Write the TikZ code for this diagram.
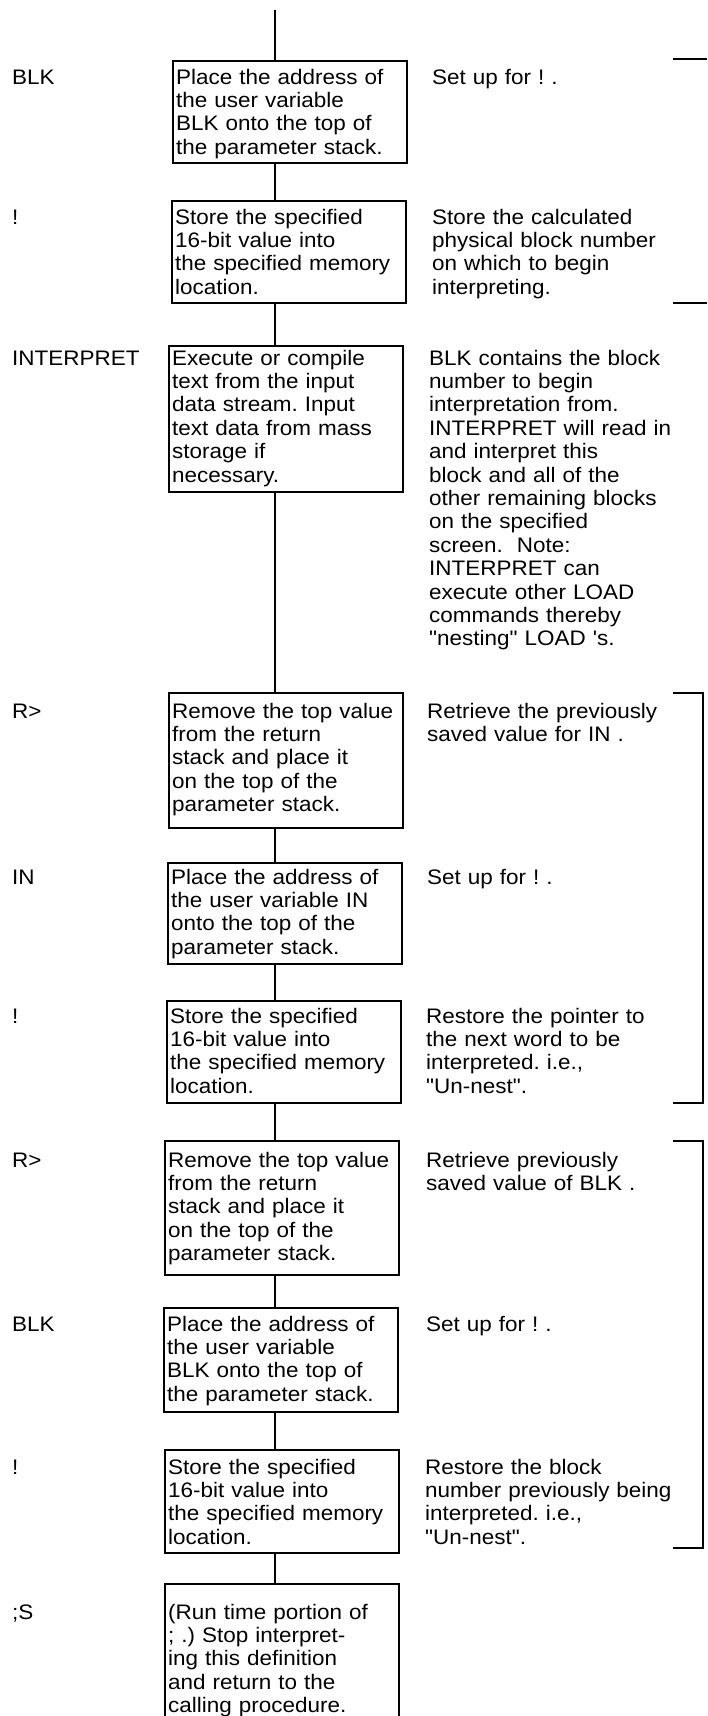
\documentclass[tikz,border=0pt]{standalone}
\usepackage{fontspec}
\setmainfont[FakeStretch=1.07, Ligatures=TeXOff]{Liberation Sans}
\frenchspacing
\begin{document}
\begin{tikzpicture}[x=1pt,y=-1pt,
  boxshape/.style={draw, line width=1.8pt, anchor=north west, inner sep=0pt, minimum width=234pt},
  txt/.style={anchor=base west, inner sep=0pt, align=left, text width=300pt, font=\fontsize{21}{23.4}\selectfont},
  rtxt/.style={anchor=base west, inner sep=0pt, align=left, text width=275pt, font=\fontsize{21}{23.4}\selectfont},
  lbl/.style={anchor=base west, inner sep=0pt, font=\fontsize{21}{23.4}\selectfont},
  conn/.style={line width=1.8pt},
]
\useasboundingbox (0,0) rectangle (707,1716);
\clip (0,0) rectangle (707,1716);
\newcommand\flowrow[9]{%
  \node[lbl] (l#1) at (12,#5) {#2};
  \node[boxshape, minimum height=#4pt-#3pt] (b#1) at (#6,#3) {};
  \node[txt] (t#1) at (#6+4,#5) {#7};
  \node[rtxt] (r#1) at (#8,#5) {#9};
}
\flowrow{1}{BLK}{60}{162}{84}{172}{Place the address of\\the user variable\\BLK onto the top of\\the parameter stack.}{432}{Set up for ! .}
\flowrow{2}{!}{200}{302}{224}{171}{Store the specified\\16-bit value into\\the specified memory\\location.}{432}{Store the calculated\\physical block number\\on which to begin\\interpreting.}
\flowrow{3}{INTERPRET}{345}{491}{365}{168}{Execute or compile\\text from the input\\data stream. Input\\text data from mass\\storage if\\necessary.}{429}{BLK contains the block\\number to begin\\interpretation from.\\INTERPRET will read in\\and interpret this\\block and all of the\\other remaining blocks\\on the specified\\screen.\ \ Note:\\INTERPRET can\\execute other LOAD\\commands thereby\\"nesting" LOAD 's.}
\flowrow{4}{R>}{692}{827}{718}{168}{Remove the top value\\from the return\\stack and place it\\on the top of the\\parameter stack.}{427}{Retrieve the previously\\saved value for IN .}
\flowrow{5}{IN}{862}{963}{884}{167}{Place the address of\\the user variable IN\\onto the top of the\\parameter stack.}{427}{Set up for ! .}
\flowrow{6}{!}{1000}{1102}{1023}{166}{Store the specified\\16-bit value into\\the specified memory\\location.}{426}{Restore the pointer to\\the next word to be\\interpreted. i.e.,\\"Un-nest".}
\flowrow{7}{R>}{1140}{1274}{1167}{164}{Remove the top value\\from the return\\stack and place it\\on the top of the\\parameter stack.}{426}{Retrieve previously\\saved value of BLK .}
\flowrow{8}{BLK}{1307}{1411}{1331}{163}{Place the address of\\the user variable\\BLK onto the top of\\the parameter stack.}{426}{Set up for ! .}
\flowrow{9}{!}{1449}{1552}{1474}{164}{Store the specified\\16-bit value into\\the specified memory\\location.}{425}{Restore the block\\number previously being\\interpreted. i.e.,\\"Un-nest".}
\node[lbl] (l10) at (12,1619) {;S};
\node[boxshape, minimum height=160pt] (b10) at (164,1583) {};
\node[txt] (t10) at (168,1619) {(Run time portion of\\; .) Stop interpret-\\ing this definition\\and return to the\\calling procedure.};
% connectors
\coordinate (spine) at (275,0);
\coordinate (start) at (275,10);
\draw[conn] (start) -- (b1.north -| spine);
\foreach \a/\b in {1/2,2/3,3/4,4/5,5/6,6/7,7/8,8/9,9/10}{
  \draw[conn] (b\a.south -| spine) -- (b\b.north -| spine);
}
% brackets
\coordinate (k1a) at (673,59);
\coordinate (k1b) at (673,303);
\draw[conn] (k1a) -- ++(34,0);
\draw[conn] (k1b) -- ++(34,0);
\coordinate (k2a) at (673,693);
\coordinate (k2b) at (673,1103);
\draw[conn] (k2a) -- ++(30,0) |- (k2b);
\coordinate (k3a) at (673,1141);
\coordinate (k3b) at (673,1548);
\draw[conn] (k3a) -- ++(30,0) |- (k3b);
\end{tikzpicture}
\end{document}
